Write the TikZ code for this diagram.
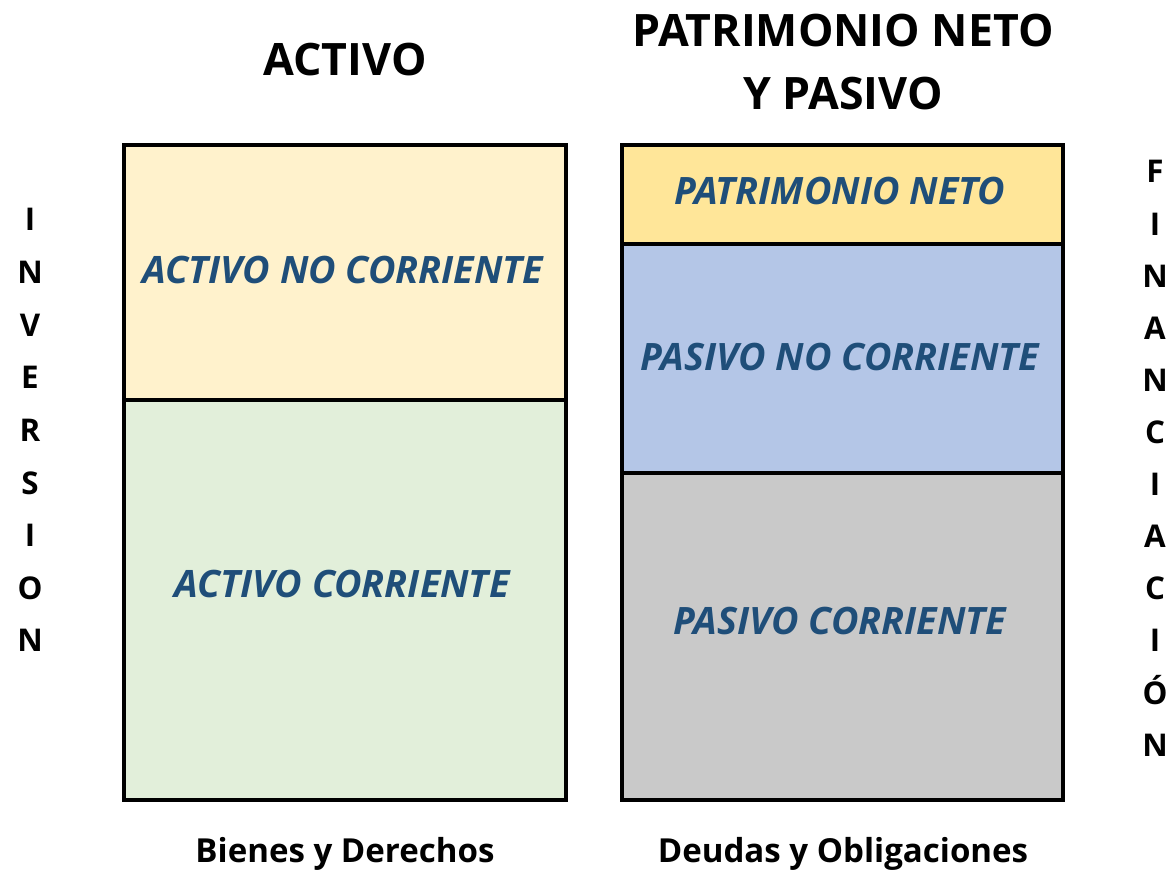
\documentclass[tikz,border=0pt]{standalone}
\usepackage{fontspec}
\setmainfont{Open Sans}
\definecolor{ancfill}{HTML}{FFF2CC}
\definecolor{acfill}{HTML}{E2EFDA}
\definecolor{pnfill}{HTML}{FFE699}
\definecolor{pncfill}{HTML}{B4C6E7}
\definecolor{pcfill}{HTML}{C9C9C9}
\definecolor{boxtext}{HTML}{1F4E79}
\begin{document}
\begin{tikzpicture}[x=0.75pt,y=-0.75pt,
  part/.style={draw=black,line width=2.4pt},
  inner/.style={font=\fontsize{28.3}{32}\selectfont\bfseries\itshape,text=boxtext,anchor=base,inner sep=0pt},
  head/.style={font=\fontsize{33.5}{40}\selectfont\bfseries,anchor=base,inner sep=0pt},
  foot/.style={font=\fontsize{24.8}{28}\selectfont\bfseries,anchor=base,inner sep=0pt},
  side/.style={font=\fontsize{23.5}{28}\selectfont\bfseries,anchor=base,inner sep=0pt}]
\useasboundingbox (0,0) rectangle (1172,870);
% left column
\path[part,fill=ancfill] (124,145) rectangle (566,400);
\path[part,fill=acfill] (124,400) rectangle (566,800);
% right column
\path[part,fill=pnfill] (622,145) rectangle (1063,244);
\path[part,fill=pncfill] (622,244) rectangle (1063,473);
\path[part,fill=pcfill] (622,473) rectangle (1063,800);
% box labels
\node[inner] (anc) at (343,283) {ACTIVO NO CORRIENTE};
\node[inner] (ac) at (342,597) {ACTIVO CORRIENTE};
\node[inner] (pn) at (840,205) {PATRIMONIO NETO};
\node[inner] (pnc) at (840,370) {PASIVO NO CORRIENTE};
\node[inner] (pc) at (840,634) {PASIVO CORRIENTE};
% headings
\node[head] (h1) at (345,76) {ACTIVO};
\node[head] (h2a) at (843,47) {PATRIMONIO NETO};
\node[head] (h2b) at (843,110) {Y PASIVO};
% footers
\node[foot] (f1) at (345,862) {Bienes y Derechos};
\node[foot] (f2) at (843,862) {Deudas y Obligaciones};
% side words
\foreach \c [count=\i] in {I,N,V,E,R,S,I,O,N}
  \node[side] (inv\i) at (30,{220+52.6*(\i-1)+11}) {\c};
\foreach \c [count=\i] in {F,I,N,A,N,C,I,A,C,I,Ó,N}
  \node[side] (fin\i) at (1155,{172+52.1*(\i-1)+11}) {\c};
\end{tikzpicture}
\end{document}
